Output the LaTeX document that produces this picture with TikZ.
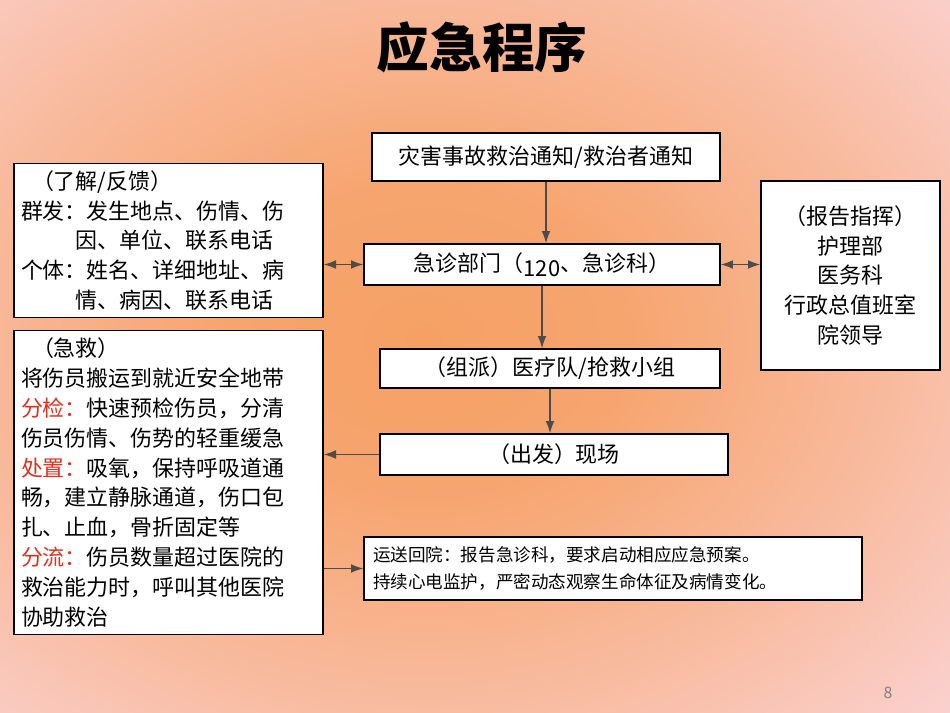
\documentclass[tikz,border=0pt]{standalone}
\usepackage{fontspec}
\setmainfont{Noto Sans CJK SC}
\definecolor{BgPink}{RGB}{251, 214, 218}
\definecolor{BgOrange}{RGB}{246, 160, 100}
\definecolor{WarnRed}{RGB}{224, 48, 30}
\usetikzlibrary{arrows.meta, positioning, calc}
\pgfdeclareradialshading{slideglow}{\pgfpoint{0cm}{0cm}}{%
    color(0cm)=(BgOrange); color(0.35cm)=(BgOrange!90!BgPink);
    color(0.8cm)=(BgOrange!50!BgPink); color(1.3cm)=(BgPink); color(2cm)=(BgPink)}

\begin{document}
\begin{tikzpicture}[x=0.02cm, y=-0.02cm,
    box/.style={draw=black, thick, fill=white, font=\fontsize{12.5}{17}\selectfont, inner sep=4pt},
    arr/.style={-{Latex[length=7pt, width=5pt]}, thick, black!70},
    darr/.style={{Latex[length=7pt, width=5pt]}-{Latex[length=7pt, width=5pt]}, thick, black!70}]
    % Background
    \useasboundingbox (0,0) rectangle (950,713);
    \fill[BgPink] (0,0) rectangle (950,713);
    \begin{scope}
        \clip (0,0) rectangle (950,713);
        \shade[shading=slideglow] (-100,-60) rectangle (950,740);
    \end{scope}

    % Title
    \node[font=\fontsize{30}{34}\selectfont\bfseries] (title) at (482,47) {应急程序};

    % Middle column
    \node[box, minimum width=6.96cm, minimum height=0.96cm] (notice) at (546,157) {灾害事故救治通知/救治者通知};
    \node[box, minimum width=7.12cm, minimum height=0.82cm] (emerg) at (542,264.5) {急诊部门（\raisebox{-0.4ex}{120}、急诊科）};
    \node[box, minimum width=6.8cm, minimum height=0.78cm] (team) at (550,368.5) {（组派）医疗队/抢救小组};
    \node[box, minimum width=6.96cm, minimum height=0.82cm] (scene) at (554,454.5) {（出发）现场};
    \node[box, minimum width=9.96cm, minimum height=1.26cm, text width=9.6cm, align=left, font=\fontsize{10}{15}\selectfont] (transfer) at (613,568.5)
        {运送回院：报告急诊科，要求启动相应应急预案。\\持续心电监护，严密动态观察生命体征及病情变化。};

    % Side boxes
    \node[box, minimum width=6.18cm, minimum height=3.02cm, text width=5.9cm, align=left] (feedback) at (168.5,240.5)
        {\hspace*{0.5em}（了解/反馈）\\群发：发生地点、伤情、伤\\\hspace*{2.5em}因、单位、联系电话\\个体：姓名、详细地址、病\\\hspace*{2.5em}情、病因、联系电话};
    \node[box, minimum width=3.58cm, minimum height=3.78cm, align=center] (report) at (850.5,275.5)
        {（报告指挥）\\护理部\\医务科\\行政总值班室\\院领导};
    \node[box, minimum width=6.18cm, minimum height=6.02cm, text width=5.9cm, align=left] (rescue) at (168.5,482.5)
        {\hspace*{0.5em}（急救）\\将伤员搬运到就近安全地带\\\textcolor{WarnRed}{分检：}快速预检伤员，分清\\伤员伤情、伤势的轻重缓急\\\textcolor{WarnRed}{处置：}吸氧，保持呼吸道通\\畅，建立静脉通道，伤口包\\扎、止血，骨折固定等\\\textcolor{WarnRed}{分流：}伤员数量超过医院的\\救治能力时，呼叫其他医院\\协助救治};

    % Connectors
    \draw[arr] (notice.south) -- (notice.south |- emerg.north);
    \draw[arr] (emerg.south) -- (emerg.south |- team.north);
    \draw[arr] (team.south) -- (team.south |- scene.north);
    \draw[darr] (emerg.west) -- (emerg.west -| feedback.east);
    \draw[darr] (emerg.east) -- (emerg.east -| report.west);
    \draw[arr] (scene.west) -- (scene.west -| rescue.east);
    \draw[arr] (transfer.west -| rescue.east) -- (transfer.west);

    % Page number
    \node[font=\small, text=black!50] (page) at (888,693) {8};
\end{tikzpicture}
\end{document}
